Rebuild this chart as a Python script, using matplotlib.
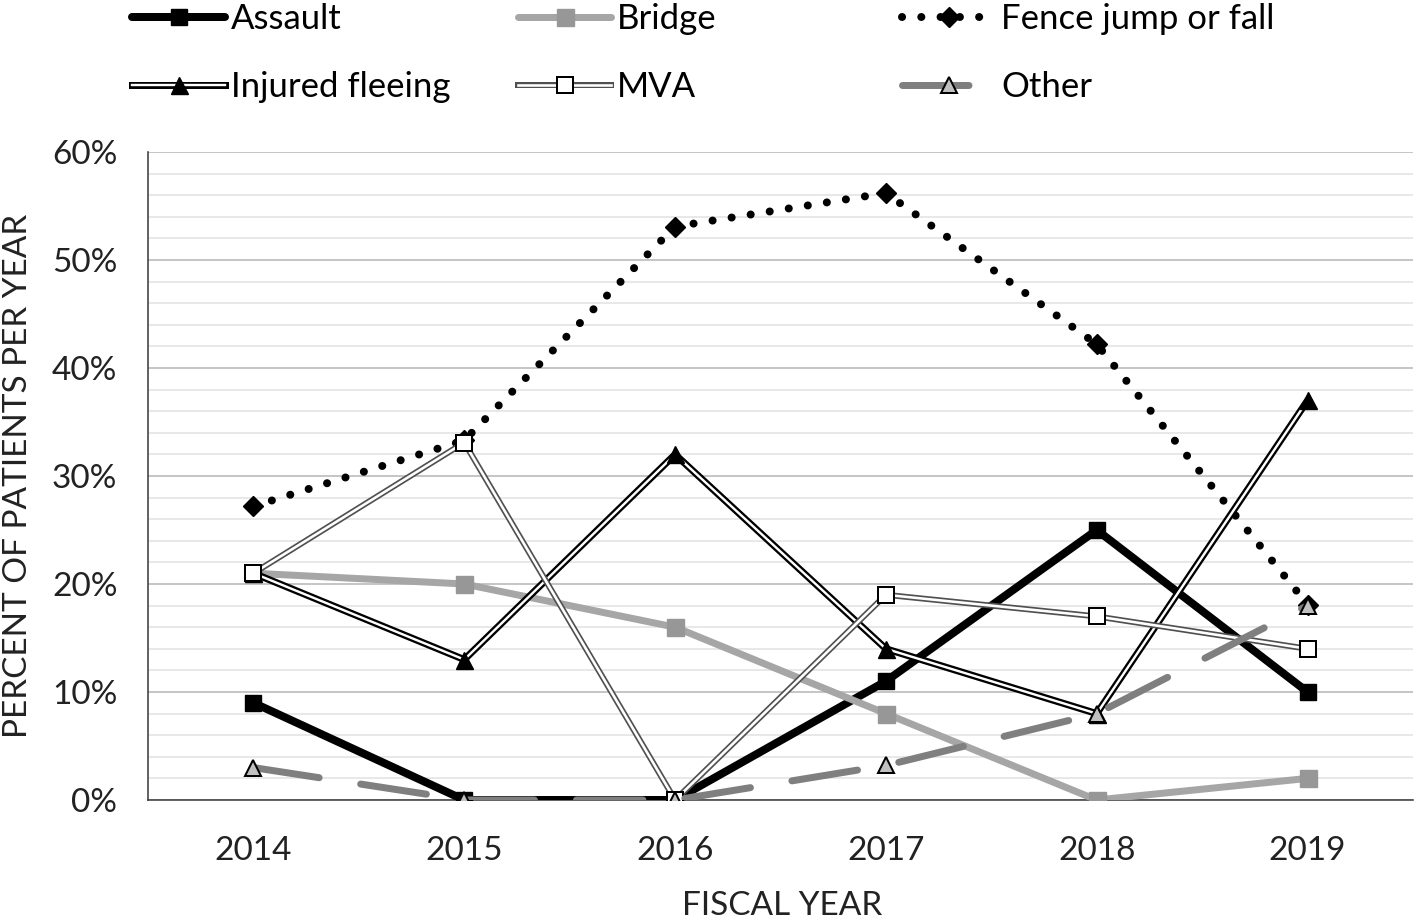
import matplotlib
matplotlib.use('Agg')
import matplotlib.pyplot as plt
from matplotlib.legend_handler import HandlerTuple
from matplotlib.ticker import MultipleLocator, FuncFormatter

years = ['2014', '2015', '2016', '2017', '2018', '2019']
assault = [9, 0, 0, 11, 25, 10]
bridge = [21, 20, 16, 8, 0, 2]
fence = [27.2, 33.3, 53.1, 56.2, 42.2, 18.1]
injured = [21, 13, 32, 14, 8, 37]
mva = [21, 33.1, 0, 19, 17, 14]
other = [3, 0, 0, 3.2, 8, 18]
names = ['Assault', 'Bridge', 'Fence jump or fall', 'Injured fleeing', 'MVA', 'Other']

plt.rcParams['font.family'] = ['Lato', 'DejaVu Sans']
W, H = 1418, 924
PX = 72 / 100.0
FS = 24
LFS = 25

fig = plt.figure(figsize=(W / 100, H / 100), dpi=100)
ax = fig.add_axes([148 / W, (H - 800) / H, (1413 - 148) / W, (800 - 152) / H])
x = list(range(len(years)))

z = 3
# Assault
h_assault, = ax.plot(x, assault, color='black', lw=8 * PX, marker='s', ms=16 * PX,
                     mfc='black', mec='black', solid_joinstyle='round', solid_capstyle='round', zorder=z)
# Bridge
h_bridge, = ax.plot(x, bridge, color='#a6a6a6', lw=7 * PX, marker='s', ms=17 * PX,
                    mfc='#979797', mec='#979797', solid_joinstyle='round', solid_capstyle='round', zorder=z + 1)
# Fence
h_fence, = ax.plot(x, fence, color='black', lw=8 * PX, linestyle=(0, (0.01, 2.4)),
                   dash_capstyle='round', marker='D', ms=14 * PX, mfc='black', mec='black', zorder=z + 2)
# Injured fleeing (double line)
inj_o, = ax.plot(x, injured, color='black', lw=7 * PX, solid_joinstyle='miter', zorder=z + 3)
inj_i, = ax.plot(x, injured, color='white', lw=2.4 * PX, solid_joinstyle='miter', zorder=z + 3.1)
inj_m, = ax.plot(x, injured, linestyle='none', marker='^', ms=17 * PX, mfc='black', mec='black', zorder=z + 3.2)
# MVA (double line)
mva_o, = ax.plot(x, mva, color='#505050', lw=6 * PX, solid_joinstyle='miter', zorder=z + 4)
mva_i, = ax.plot(x, mva, color='white', lw=2.6 * PX, solid_joinstyle='miter', zorder=z + 4.1)
mva_m, = ax.plot(x, mva, linestyle='none', marker='s', ms=16 * PX, mfc='white', mec='black',
                 mew=2 * PX, zorder=z + 4.2)
# Other
h_other, = ax.plot(x, other, color='#7f7f7f', lw=7 * PX, linestyle=(0, (9.5, 6)),
                   dash_capstyle='round', marker='^', ms=16 * PX, mfc='#c0c0c0', mec='black',
                   mew=2 * PX, zorder=z + 5)

ax.set_xlim(-0.5, 5.5)
ax.set_ylim(0, 60)
ax.set_xticks(x)
ax.set_xticklabels(years)
ax.yaxis.set_major_locator(MultipleLocator(10))
ax.yaxis.set_minor_locator(MultipleLocator(2))
ax.yaxis.set_major_formatter(FuncFormatter(lambda v, p: f'{int(round(v))}%'))
ax.grid(which='major', axis='y', color='#c6c6c6', lw=2 * PX, zorder=0)
ax.grid(which='minor', axis='y', color='#e8e8e8', lw=2 * PX, zorder=0)
ax.set_axisbelow(True)
ax.tick_params(axis='both', which='both', length=0, labelsize=FS, colors='#222222')
ax.tick_params(axis='y', pad=34 * PX * 0.9)
ax.tick_params(axis='x', pad=36 * PX)
for s in ['top', 'right']:
    ax.spines[s].set_visible(False)
for s in ['left', 'bottom']:
    ax.spines[s].set_color('#404040')
    ax.spines[s].set_linewidth(1.6 * PX)

fig.text(18 / W, 1 - 476 / H, 'PERCENT OF PATIENTS PER YEAR', rotation=90, ha='center', va='center',
         fontsize=FS, color='#222222')
fig.text(782 / W, 1 - 906 / H, 'FISCAL YEAR', ha='center', va='center', fontsize=FS, color='#222222')

fs_px = LFS / PX
common = dict(frameon=False, borderpad=0, borderaxespad=0, fontsize=LFS, loc='center left',
              handlelength=93 / fs_px, handletextpad=6 / fs_px, labelspacing=1.05,
              handler_map={tuple: HandlerTuple(ndivide=1, pad=0)})
fig.legend(handles=[h_assault, (inj_o, inj_i, inj_m)], labels=[names[0], names[3]],
           bbox_to_anchor=(132 / W, 1 - 53 / H), **common)
fig.legend(handles=[h_bridge, (mva_o, mva_i, mva_m)], labels=[names[1], names[4]],
           bbox_to_anchor=(518 / W, 1 - 53 / H), **common)
fig.legend(handles=[h_fence, h_other], labels=[names[2], names[5]],
           bbox_to_anchor=(902 / W, 1 - 53 / H), **common)

fig.savefig('out.png', dpi=100)
